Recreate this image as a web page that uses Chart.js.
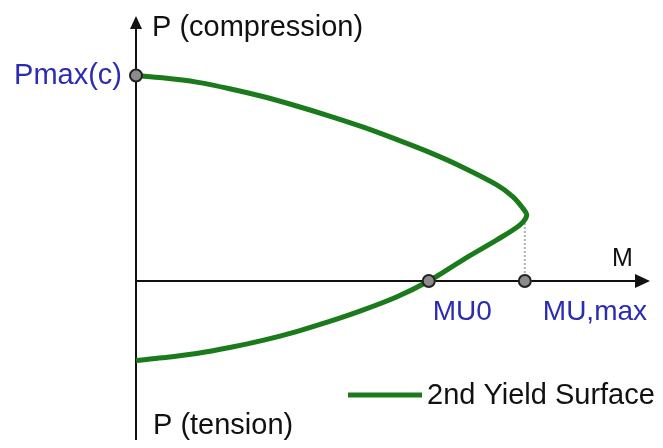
<!DOCTYPE html>
<html lang="en">
<head>
    <meta charset="UTF-8">
    <title>2nd Yield Surface</title>
    <script src="https://cdn.jsdelivr.net/npm/chart.js"></script>
    <style>
        body {
            margin: 0;
            background: #fff;
        }
        canvas {
            display: block;
        }
    </style>
</head>
<body>
    <canvas id="yieldChart" width="663" height="448"></canvas>

    <script>
        // interaction curve, M normalised by MU,max and P by Pmax(c)
        const surfaceM = [0, 0.068, 0.156, 0.241, 0.326, 0.413, 0.498, 0.583, 0.670, 0.755, 0.840, 0.928, 0.969, 0.995, 1.005,
                          0.987, 0.928, 0.840, 0.753, 0.670, 0.583, 0.498, 0.413, 0.326, 0.241, 0.156, 0.068, 0];
        const surfaceP = [1.0, 0.989, 0.968, 0.936, 0.898, 0.852, 0.803, 0.750, 0.689, 0.626, 0.554, 0.468, 0.411, 0.354, 0.320,
                          0.272, 0.200, 0.102, 0, -0.078, -0.142, -0.197, -0.246, -0.289, -0.324, -0.353, -0.374, -0.387];

        // marked points
        const markerM = [0, 0.753, 1.0];
        const markerP = [1.0, 0, 0];
        const markerLabels = ['Pmax(c)', 'MU0', 'MU,max'];

        // dotted guide from MU,max up to the curve
        const guideM = [1.0, 1.0];
        const guideP = [0, 0.29];

        const axisRangeM = [0, 1.322];
        const axisRangeP = [-0.774, 1.290];

        const seriesLabel = '2nd Yield Surface';
        const axisTitles = { pTop: 'P (compression)', pBottom: 'P (tension)', m: 'M' };

        const green = '#1b7a1b';
        const blue = '#2b2bb3';
        const fontFamily = '"Liberation Sans", Arial, sans-serif';

        const toXY = (xs, ys) => xs.map((x, i) => ({ x: x, y: ys[i] }));

        function arrow(ctx, x, y, dir) {
            ctx.beginPath();
            if (dir === 'up') {
                ctx.moveTo(x, y);
                ctx.lineTo(x - 6, y + 13);
                ctx.lineTo(x + 6, y + 13);
            } else {
                ctx.moveTo(x, y);
                ctx.lineTo(x - 15, y - 7);
                ctx.lineTo(x - 15, y + 7);
            }
            ctx.closePath();
            ctx.fill();
        }

        const axesPlugin = {
            id: 'axes',
            beforeDatasetsDraw(chart) {
                const { ctx, scales: { x, y } } = chart;
                const x0 = x.getPixelForValue(0);
                const y0 = y.getPixelForValue(0);
                ctx.save();
                ctx.strokeStyle = '#111';
                ctx.fillStyle = '#111';
                ctx.lineWidth = 2;
                ctx.beginPath();
                ctx.moveTo(x0, y.getPixelForValue(axisRangeP[1]) + 8);
                ctx.lineTo(x0, y.bottom);
                ctx.moveTo(x0, y0);
                ctx.lineTo(x.getPixelForValue(axisRangeM[1]) - 8, y0);
                ctx.stroke();
                arrow(ctx, x0, y.getPixelForValue(axisRangeP[1]), 'up');
                arrow(ctx, x.getPixelForValue(axisRangeM[1]), y0, 'right');
                ctx.restore();
            },
            afterDraw(chart) {
                const { ctx, scales: { x, y } } = chart;
                const x0 = x.getPixelForValue(0);
                const y0 = y.getPixelForValue(0);
                const xEnd = x.getPixelForValue(axisRangeM[1]);
                const yTop = y.getPixelForValue(axisRangeP[1]);
                ctx.save();
                ctx.textBaseline = 'alphabetic';

                // axis titles
                ctx.font = '29px ' + fontFamily;
                ctx.fillStyle = '#111';
                ctx.textAlign = 'left';
                ctx.fillText(axisTitles.pTop, x0 + 16, yTop + 20);
                ctx.fillText(axisTitles.pBottom, x0 + 17, y.bottom - 6);
                ctx.font = '25px ' + fontFamily;
                ctx.fillText(axisTitles.m, xEnd - 38, y0 - 15);

                // point labels
                ctx.font = '29px ' + fontFamily;
                ctx.fillStyle = blue;
                ctx.textAlign = 'right';
                ctx.fillText(markerLabels[0], x.getPixelForValue(markerM[0]) - 14, y.getPixelForValue(markerP[0]) + 8);
                ctx.font = '28px ' + fontFamily;
                ctx.textAlign = 'left';
                ctx.fillText(markerLabels[1], x.getPixelForValue(markerM[1]) + 4, y0 + 39);
                ctx.fillText(markerLabels[2], x.getPixelForValue(markerM[2]) + 18, y0 + 39);

                // legend
                const ds = chart.data.datasets[0];
                const lx = 348, ly = 395;
                ctx.strokeStyle = ds.borderColor;
                ctx.lineWidth = 5;
                ctx.beginPath();
                ctx.moveTo(lx, ly);
                ctx.lineTo(lx + 74, ly);
                ctx.stroke();
                ctx.font = '29px ' + fontFamily;
                ctx.fillStyle = '#111';
                ctx.fillText(ds.label, lx + 79, ly + 9);
                ctx.restore();
            }
        };

        new Chart(document.getElementById('yieldChart'), {
            type: 'scatter',
            data: {
                datasets: [
                    {
                        label: seriesLabel,
                        data: toXY(surfaceM, surfaceP),
                        showLine: true,
                        borderColor: green,
                        borderWidth: 5,
                        pointRadius: 0,
                        tension: 0.3,
                        clip: false,
                        order: 2
                    },
                    {
                        label: 'guide',
                        data: toXY(guideM, guideP),
                        showLine: true,
                        borderColor: '#b0b0b0',
                        borderWidth: 2,
                        borderDash: [2, 2],
                        pointRadius: 0,
                        clip: false,
                        order: 3
                    },
                    {
                        label: 'points',
                        data: toXY(markerM, markerP),
                        showLine: false,
                        pointRadius: 6,
                        pointBackgroundColor: '#8c8c8c',
                        pointBorderColor: '#222',
                        pointBorderWidth: 2,
                        clip: false,
                        order: 1
                    }
                ]
            },
            options: {
                responsive: false,
                animation: false,
                layout: { padding: { left: 136, right: 13, top: 16, bottom: 0 } },
                scales: {
                    x: { type: 'linear', min: axisRangeM[0], max: axisRangeM[1], display: false },
                    y: { type: 'linear', min: axisRangeP[0], max: axisRangeP[1], display: false }
                },
                plugins: {
                    legend: { display: false },
                    tooltip: { enabled: false }
                }
            },
            plugins: [axesPlugin]
        });
    </script>
</body>
</html>
